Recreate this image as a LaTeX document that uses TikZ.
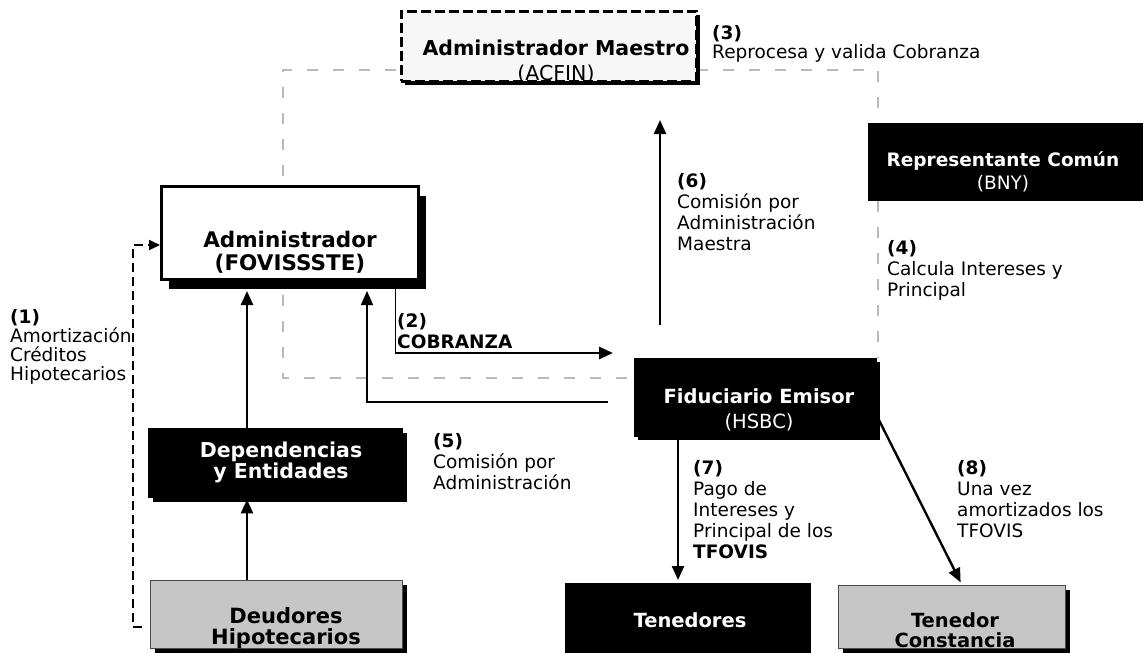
\documentclass[tikz,border=0pt]{standalone}
\usepackage{fontspec}
\setmainfont{DejaVu Sans}
\usetikzlibrary{arrows.meta,shadows}

\begin{document}
\begin{tikzpicture}[x=1pt,y=-1pt,
  flow/.style={line width=2.4pt, -{Triangle[length=14pt,width=12pt]}},
  gline/.style={draw=gray!55, line width=2.2pt, dash pattern=on 11pt off 15pt},
  dline/.style={line width=2pt, dash pattern=on 9pt off 5pt, -{Triangle[length=11pt,width=10pt]}},
  box/.style={anchor=north west, inner sep=0pt, draw=black, fill=black},
  shd/.style={drop shadow={shadow xshift=#1, shadow yshift=-#1, opacity=1, fill=black}},
  btxt/.style={font=\fontsize{19.5}{25}\selectfont, align=center, inner sep=0pt},
  lbl/.style={font=\fontsize{18.5}{21}\selectfont, align=left, anchor=north west, inner sep=0pt}]
\useasboundingbox (0,0) rectangle (1143,653);

% loop of the Administrador Maestro (drawn first, boxes cover it)
\coordinate (lp1) at (283,70);
\coordinate (lp2) at (878,358);
\draw[gline, shorten <=7pt] (634,378) -| (lp1) -| (lp2);

% Boxes
\node[box, fill=gray!6, line width=2.5pt, dash pattern=on 10pt off 4pt, shd=4pt,
  minimum width=295pt, minimum height=70pt] (mae) at (400,10) {};
\node[box, fill=white, line width=3pt, minimum width=257pt, minimum height=93pt,
  drop shadow={shadow xshift=7pt, shadow yshift=-9pt, opacity=1, fill=black}] (adm) at (160,185) {};
\node[box, minimum width=290pt, minimum height=77pt] (rep) at (868,123) {};
\node[box, shd=4pt, minimum width=242pt, minimum height=78pt] (fid) at (634,358) {};
\node[box, shd=5pt, minimum width=254pt, minimum height=69pt] (dep) at (148,428) {};
\node[box, fill=gray!45, draw=black!70, line width=0.8pt, shd=5pt,
  minimum width=252pt, minimum height=68pt] (deu) at (150,580) {};
\node[box, minimum width=245pt, minimum height=70pt] (ten) at (565,583) {};
\node[box, fill=gray!45, draw=black!70, line width=0.8pt, shd=5pt,
  minimum width=227pt, minimum height=63pt] (con) at (838,585) {};

% Box texts
\node[btxt, font=\fontsize{20.5}{25}\selectfont] (maet) at (556,62) {\textbf{Administrador Maestro}\\(ACFIN)};
\node[btxt, font=\fontsize{21.5}{23}\selectfont\bfseries] (admt) at (290,252) {Administrador\\(FOVISSSTE)};
\node[btxt, white, font=\fontsize{18.5}{23}\selectfont] (rept) at (1003,172) {\textbf{Representante Común}\\(BNY)};
\node[btxt, white] (fidt) at (759,410) {\textbf{Fiduciario Emisor}\\(HSBC)};
\node[btxt, white, font=\fontsize{20.5}{21}\selectfont\bfseries] (dept) at (281,462) {Dependencias\\y Entidades};
\node[btxt, font=\fontsize{21}{21}\selectfont\bfseries] (deut) at (286,628) {Deudores\\Hipotecarios};
\node[btxt, white, font=\fontsize{19.5}{24}\selectfont\bfseries] (tent) at (690,620) {Tenedores};
\node[btxt, font=\fontsize{19.5}{20}\selectfont\bfseries] (cont) at (955,630) {Tenedor\\Constancia};

% (1) Amortizacion
\draw[dline, shorten <=8pt] (deu.west |- 0,627) -| (133,245) -- (adm.west |- 0,245);
% Deudores -> Dependencias -> Administrador
\draw[flow, shorten >=2pt] (deu.north -| 247,0) -- (dep.south -| 247,0);
\draw[flow, shorten >=10pt] (dep.north -| 247,0) -- (adm.south -| 247,0);
% (2) Cobranza
\coordinate (cob0) at (395,353);
\coordinate (cob) at (613,353);
\draw[line width=1pt] (adm.south -| 395,0) -- (cob0);
\draw[flow, line width=2.8pt] (cob0) -- (cob);
% (5) Comision por Administracion
\coordinate (ret) at (608,402);
\draw[flow, line width=1.4pt, shorten >=10pt] (ret) -| (adm.south -| 367,0);
% (6) Comision por Administracion Maestra
\coordinate (m6a) at (660,325);
\coordinate (m6b) at (660,120);
\draw[flow] (m6a) -- (m6b);
% (7) and (8)
\draw[flow, shorten >=3pt] (fid.south -| 678,0) -- (ten.north -| 678,0);
\draw[flow, shorten >=3pt] (fid.east |- 0,415) -- (con.north -| 962,0);

% Labels
\node[lbl, font=\fontsize{18.5}{19}\selectfont] (l1) at (10,309) {\textbf{(1)}\\Amortización\\Créditos\\Hipotecarios};
\node[lbl] (l2) at (397,313) {\textbf{(2)}\\\textbf{COBRANZA}};
\node[lbl, font=\fontsize{18.5}{19}\selectfont] (l3) at (712,25) {\textbf{(3)}\\Reprocesa y valida Cobranza};
\node[lbl] (l4) at (887,240) {\textbf{(4)}\\Calcula Intereses y\\Principal};
\node[lbl] (l5) at (433,433) {\textbf{(5)}\\Comisión por\\Administración};
\node[lbl] (l6) at (677,173) {\textbf{(6)}\\Comisión por\\Administración\\Maestra};
\node[lbl] (l7) at (693,460) {\textbf{(7)}\\Pago de\\Intereses y\\Principal de los\\\textbf{TFOVIS}};
\node[lbl] (l8) at (957,460) {\textbf{(8)}\\Una vez\\amortizados los\\TFOVIS};
\end{tikzpicture}
\end{document}
